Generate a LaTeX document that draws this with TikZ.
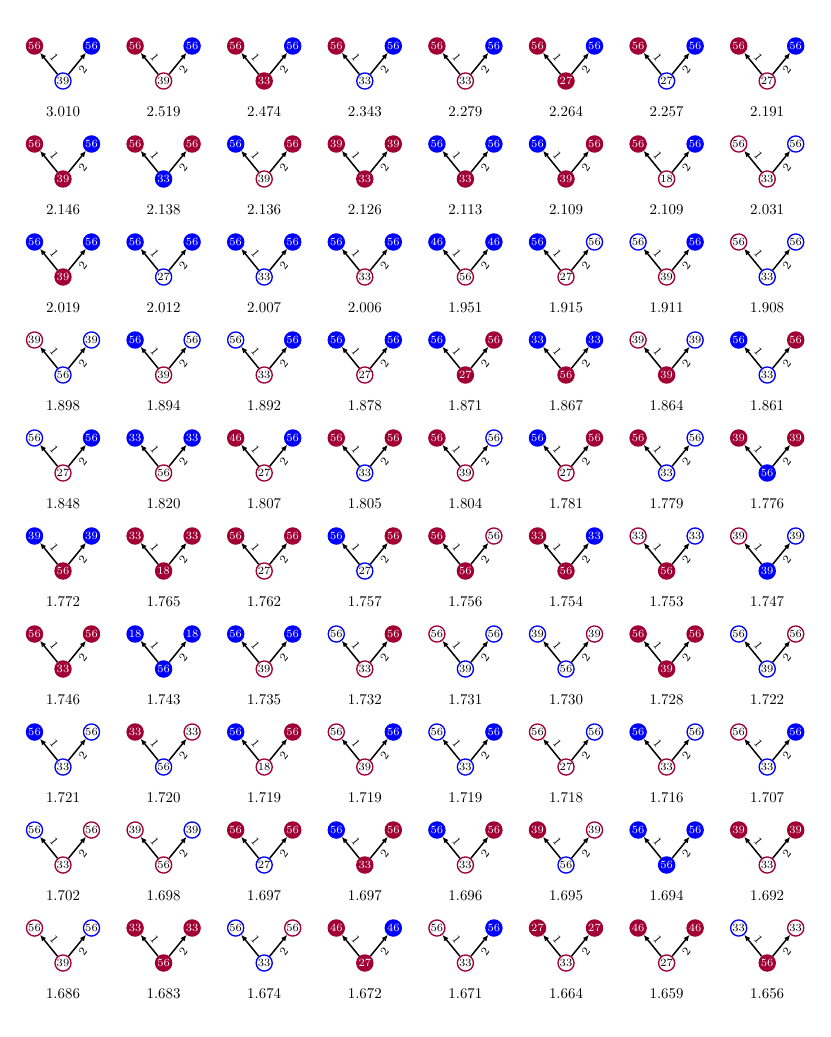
\documentclass[tikz,border=0pt]{standalone}
\usetikzlibrary{arrows.meta}
\definecolor{myred}{RGB}{160,0,52}
\definecolor{myblue}{RGB}{0,0,255}
\tikzset{
  gnode/.style={circle,minimum size=10.8pt,inner sep=0pt,line width=0.9pt,font=\fontsize{7.4}{8}\selectfont},
  rF/.style={gnode,draw=myred,fill=myred,text=white},
  rH/.style={gnode,draw=myred,fill=white,text=black},
  bF/.style={gnode,draw=myblue,fill=myblue,text=white},
  bH/.style={gnode,draw=myblue,fill=white,text=black},
  edge/.style={line width=1pt,-{Latex[length=4.2pt,width=3.6pt]}},
  elab/.style={font=\footnotesize,inner sep=2.3pt},
  val/.style={font=\normalsize,inner sep=0pt}
}
\newcommand\gcell[9]{%
  \pgfmathsetmacro\cx{63+100.6*#1}%
  \pgfmathsetmacro\cy{81+98*#2}%
  \node[#3] (L#1#2) at (\cx-28.5,\cy-35) {#4};
  \node[#5] (R#1#2) at (\cx+28.5,\cy-35) {#6};
  \node[#7] (B#1#2) at (\cx,\cy) {#8};
  \draw[edge] (B#1#2) -- node[elab,above,sloped,pos=0.55]{1} (L#1#2);
  \draw[edge] (B#1#2) -- node[elab,below,sloped,pos=0.45]{2} (R#1#2);
  \node[val] (V#1#2) at (\cx,\cy+31) {#9};
}
\begin{document}
\begin{tikzpicture}[x=0.67pt,y=-0.67pt]
\useasboundingbox (0,0) rectangle (830,1037);
% row 0
\gcell{0}{0}{rF}{56}{bF}{56}{bH}{39}{3.010}
\gcell{1}{0}{rF}{56}{bF}{56}{rH}{39}{2.519}
\gcell{2}{0}{rF}{56}{bF}{56}{rF}{33}{2.474}
\gcell{3}{0}{rF}{56}{bF}{56}{bH}{33}{2.343}
\gcell{4}{0}{rF}{56}{bF}{56}{rH}{33}{2.279}
\gcell{5}{0}{rF}{56}{bF}{56}{rF}{27}{2.264}
\gcell{6}{0}{rF}{56}{bF}{56}{bH}{27}{2.257}
\gcell{7}{0}{rF}{56}{bF}{56}{rH}{27}{2.191}
% row 1
\gcell{0}{1}{rF}{56}{bF}{56}{rF}{39}{2.146}
\gcell{1}{1}{rF}{56}{rF}{56}{bF}{33}{2.138}
\gcell{2}{1}{bF}{56}{rF}{56}{rH}{39}{2.136}
\gcell{3}{1}{rF}{39}{rF}{39}{rF}{33}{2.126}
\gcell{4}{1}{bF}{56}{bF}{56}{rF}{33}{2.113}
\gcell{5}{1}{bF}{56}{rF}{56}{rF}{39}{2.109}
\gcell{6}{1}{rF}{56}{bF}{56}{rH}{18}{2.109}
\gcell{7}{1}{rH}{56}{bH}{56}{rH}{33}{2.031}
% row 2
\gcell{0}{2}{bF}{56}{bF}{56}{rF}{39}{2.019}
\gcell{1}{2}{bF}{56}{bF}{56}{bH}{27}{2.012}
\gcell{2}{2}{bF}{56}{bF}{56}{bH}{33}{2.007}
\gcell{3}{2}{bF}{56}{bF}{56}{rH}{33}{2.006}
\gcell{4}{2}{bF}{46}{bF}{46}{rH}{56}{1.951}
\gcell{5}{2}{bF}{56}{bH}{56}{rH}{27}{1.915}
\gcell{6}{2}{bH}{56}{bF}{56}{rH}{39}{1.911}
\gcell{7}{2}{rH}{56}{bH}{56}{bH}{33}{1.908}
% row 3
\gcell{0}{3}{rH}{39}{bH}{39}{bH}{56}{1.898}
\gcell{1}{3}{bF}{56}{bH}{56}{rH}{39}{1.894}
\gcell{2}{3}{bH}{56}{bF}{56}{rH}{33}{1.892}
\gcell{3}{3}{bF}{56}{bF}{56}{rH}{27}{1.878}
\gcell{4}{3}{bF}{56}{rF}{56}{rF}{27}{1.871}
\gcell{5}{3}{bF}{33}{bF}{33}{rF}{56}{1.867}
\gcell{6}{3}{rH}{39}{bH}{39}{rF}{39}{1.864}
\gcell{7}{3}{bF}{56}{rF}{56}{bH}{33}{1.861}
% row 4
\gcell{0}{4}{bH}{56}{bF}{56}{rH}{27}{1.848}
\gcell{1}{4}{bF}{33}{bF}{33}{rH}{56}{1.820}
\gcell{2}{4}{rF}{46}{bF}{56}{rH}{27}{1.807}
\gcell{3}{4}{rF}{56}{rF}{56}{bH}{33}{1.805}
\gcell{4}{4}{rF}{56}{bH}{56}{rH}{39}{1.804}
\gcell{5}{4}{bF}{56}{rF}{56}{rH}{27}{1.781}
\gcell{6}{4}{rF}{56}{bH}{56}{bH}{33}{1.779}
\gcell{7}{4}{rF}{39}{rF}{39}{bF}{56}{1.776}
% row 5
\gcell{0}{5}{bF}{39}{bF}{39}{rF}{56}{1.772}
\gcell{1}{5}{rF}{33}{rF}{33}{rF}{18}{1.765}
\gcell{2}{5}{rF}{56}{rF}{56}{rH}{27}{1.762}
\gcell{3}{5}{bF}{56}{rF}{56}{bH}{27}{1.757}
\gcell{4}{5}{rF}{56}{rH}{56}{rF}{56}{1.756}
\gcell{5}{5}{rF}{33}{bF}{33}{rF}{56}{1.754}
\gcell{6}{5}{rH}{33}{bH}{33}{rF}{56}{1.753}
\gcell{7}{5}{rH}{39}{bH}{39}{bF}{39}{1.747}
% row 6
\gcell{0}{6}{rF}{56}{rF}{56}{rF}{33}{1.746}
\gcell{1}{6}{bF}{18}{bF}{18}{bF}{56}{1.743}
\gcell{2}{6}{bF}{56}{bF}{56}{rH}{39}{1.735}
\gcell{3}{6}{bH}{56}{rF}{56}{rH}{33}{1.732}
\gcell{4}{6}{rH}{56}{bH}{56}{bH}{39}{1.731}
\gcell{5}{6}{bH}{39}{rH}{39}{bH}{56}{1.730}
\gcell{6}{6}{rF}{56}{rF}{56}{rF}{39}{1.728}
\gcell{7}{6}{bH}{56}{rH}{56}{bH}{39}{1.722}
% row 7
\gcell{0}{7}{bF}{56}{bH}{56}{bH}{33}{1.721}
\gcell{1}{7}{rF}{33}{rH}{33}{bH}{56}{1.720}
\gcell{2}{7}{bF}{56}{rF}{56}{rH}{18}{1.719}
\gcell{3}{7}{rH}{56}{bF}{56}{rH}{39}{1.719}
\gcell{4}{7}{bH}{56}{bF}{56}{bH}{33}{1.719}
\gcell{5}{7}{rH}{56}{bH}{56}{rH}{27}{1.718}
\gcell{6}{7}{bF}{56}{bH}{56}{rH}{33}{1.716}
\gcell{7}{7}{rH}{56}{bF}{56}{bH}{33}{1.707}
% row 8
\gcell{0}{8}{bH}{56}{rH}{56}{rH}{33}{1.702}
\gcell{1}{8}{rH}{39}{bH}{39}{rH}{56}{1.698}
\gcell{2}{8}{rF}{56}{rF}{56}{bH}{27}{1.697}
\gcell{3}{8}{bF}{56}{rF}{56}{rF}{33}{1.697}
\gcell{4}{8}{bF}{56}{rF}{56}{rH}{33}{1.696}
\gcell{5}{8}{rF}{39}{rH}{39}{bH}{56}{1.695}
\gcell{6}{8}{bF}{56}{bF}{56}{bF}{56}{1.694}
\gcell{7}{8}{rF}{39}{rF}{39}{rH}{33}{1.692}
% row 9
\gcell{0}{9}{rH}{56}{bH}{56}{rH}{39}{1.686}
\gcell{1}{9}{rF}{33}{rF}{33}{rF}{56}{1.683}
\gcell{2}{9}{bH}{56}{rH}{56}{bH}{33}{1.674}
\gcell{3}{9}{rF}{46}{bF}{46}{rF}{27}{1.672}
\gcell{4}{9}{rH}{56}{bF}{56}{rH}{33}{1.671}
\gcell{5}{9}{rF}{27}{rF}{27}{rH}{33}{1.664}
\gcell{6}{9}{rF}{46}{rF}{46}{rH}{27}{1.659}
\gcell{7}{9}{bH}{33}{rH}{33}{rF}{56}{1.656}
\end{tikzpicture}
\end{document}
